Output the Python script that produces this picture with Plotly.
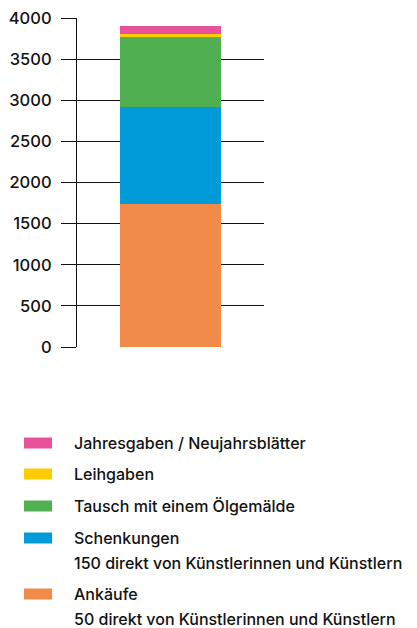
import plotly.graph_objects as go

categories = ["Total"]
series_names = ["Ankäufe", "Schenkungen", "Tausch mit einem Ölgemälde", "Leihgaben", "Jahresgaben / Neujahrsblätter"]
series_values = [[1740], [1180], [850], [30], [105]]
series_colors = ["#F08B4A", "#009BD8", "#50AF50", "#FFCC00", "#E9519A"]
legend_lines = [
    ["Ankäufe", "50 direkt von Künstlerinnen und Künstlern"],
    ["Schenkungen", "150 direkt von Künstlerinnen und Künstlern"],
    ["Tausch mit einem Ölgemälde"],
    ["Leihgaben"],
    ["Jahresgaben / Neujahrsblätter"],
]
tick_vals = [0, 500, 1000, 1500, 2000, 2500, 3000, 3500, 4000]

FONT = "Inter"
OFF = 8  # page body margin
W, H = 417 - OFF, 628 - OFF
L, R, T, B = 77 - OFF, 153, 18 - OFF, 281
pw, ph = W - L - R, H - T - B

fig = go.Figure()
for name, vals, col in zip(series_names, series_values, series_colors):
    fig.add_trace(go.Bar(x=categories, y=vals, name=name, marker=dict(color=col, line=dict(width=0)),
                         width=0.545, showlegend=False))

# custom legend (top to bottom: reversed series order)
legend_rows_y = [594, 538, 506, 474, 443]  # page pixel centers of first line
LINE_GAP = 25
for lines, col, py in zip(legend_lines, series_colors, legend_rows_y):
    yc = (H - B - (py - OFF)) / ph
    fig.add_shape(type="rect", xref="paper", yref="paper",
                  x0=(24 - 77) / pw, x1=(52 - 77) / pw,
                  y0=yc - 5.5 / ph, y1=yc + 5.5 / ph,
                  fillcolor=col, line=dict(width=0))
    for i, txt in enumerate(lines):
        fig.add_annotation(xref="paper", yref="paper", x=(72 - 77) / pw, y=yc - i * LINE_GAP / ph,
                           text=txt, showarrow=False, xanchor="left", yanchor="middle",
                           align="left", font=dict(family=FONT, size=16, color="#111111", weight=500))

fig.update_layout(
    width=W, height=H,
    margin=dict(l=L, r=R, t=T, b=B, pad=0, autoexpand=False),
    barmode="stack",
    bargap=0,
    plot_bgcolor="white", paper_bgcolor="white",
    font=dict(family=FONT, size=16, color="#111111"),
    showlegend=False,
    xaxis=dict(showticklabels=False, showgrid=False, zeroline=False, showline=False, ticks="",
               automargin=False),
    yaxis=dict(range=[0, 4000], tickvals=tick_vals, showgrid=True, gridcolor="#111111", gridwidth=1.3,
               zeroline=False, showline=True, linecolor="#111111", linewidth=1.3,
               ticks="outside", ticklen=15, tickcolor="#111111", tickwidth=1.3,
               automargin=False, ticklabeloverflow="allow",
               ticklabelstandoff=6, tickfont=dict(family=FONT, size=16.5, color="#111111", weight=500)),
)

fig.write_html("out.html")
